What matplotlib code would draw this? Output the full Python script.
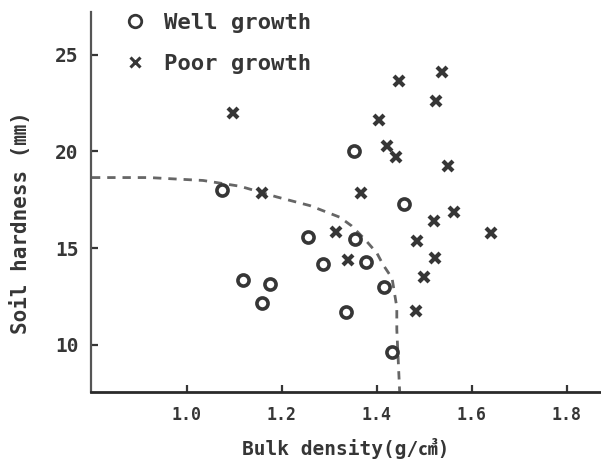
import matplotlib
matplotlib.use("Agg")
import matplotlib.pyplot as plt
from matplotlib.lines import Line2D

# Well growth stands: bulk density (g/cm3) vs. soil hardness (mm)
well_density = [1.074, 1.352, 1.457, 1.255, 1.354, 1.286, 1.377,
                1.118, 1.175, 1.159, 1.415, 1.334, 1.432]
well_hardness = [18.0, 20.0, 17.3, 15.6, 15.5, 14.2, 14.3,
                 13.35, 13.15, 12.15, 13.0, 11.7, 9.65]

# Poor growth stands
poor_density = [1.446, 1.538, 1.525, 1.405, 1.422, 1.441, 1.550,
                1.097, 1.367, 1.159, 1.562, 1.520, 1.485, 1.522,
                1.500, 1.482, 1.641, 1.314, 1.339]
poor_hardness = [23.65, 24.1, 22.6, 21.6, 20.3, 19.7, 19.25,
                 22.0, 17.85, 17.85, 16.85, 16.4, 15.35, 14.5,
                 13.5, 11.75, 15.8, 15.85, 14.4]

# Hand-drawn boundary between the two groups
bound_density = [0.80, 0.92, 1.034, 1.112, 1.189, 1.259, 1.322, 1.347,
                 1.375, 1.400, 1.413, 1.432, 1.442, 1.442, 1.448]
bound_hardness = [18.65, 18.65, 18.5, 18.2, 17.65, 17.2, 16.6, 16.15,
                  15.45, 14.75, 14.15, 13.45, 11.95, 10.8, 7.6]

x_ticks = [1.0, 1.2, 1.4, 1.6, 1.8]
x_ticklabels = ["1.0", "1.2", "1.4", "1.6", "1.8"]
y_ticks = [10, 15, 20, 25]

INK = "#363636"
MONO = "DejaVu Sans Mono"

fig = plt.figure(figsize=(6.01, 4.65), dpi=100)
ax = fig.add_axes([0.1514, 0.157, 0.8486, 0.817])

ax.plot(bound_density, bound_hardness, linestyle=(0, (3, 2.5)), color="#666666",
        linewidth=2.0, zorder=1)
ax.plot(well_density, well_hardness, linestyle="none", marker="o", markersize=8,
        markerfacecolor="white", markeredgecolor=INK, markeredgewidth=2.6, zorder=3)
ax.plot(poor_density, poor_hardness, linestyle="none", marker="x", markersize=7,
        color=INK, markeredgewidth=3.0, zorder=3)

ax.set_xlim(0.798, 1.872)
ax.set_ylim(7.57, 27.2)

for side in ("top", "right"):
    ax.spines[side].set_visible(False)
ax.spines["left"].set_color("#555555")
ax.spines["left"].set_linewidth(1.6)
ax.spines["bottom"].set_color("#2a2a2a")
ax.spines["bottom"].set_linewidth(2.0)

ax.set_xticks(x_ticks)
ax.set_xticklabels(x_ticklabels)
ax.set_yticks(y_ticks)
ax.tick_params(direction="in", length=5, width=1.6, color=INK, labelcolor=INK)
ax.tick_params(axis="x", labelsize=12, pad=10)
ax.tick_params(axis="y", labelsize=14, pad=9)
for lab in ax.get_xticklabels() + ax.get_yticklabels():
    lab.set_fontfamily(MONO)
    lab.set_fontweight("bold")

ax.set_xlabel("Bulk density(g/㎤)", fontsize=14, fontweight="bold", color=INK,
              family=[MONO, "Noto Sans CJK JP"], labelpad=10)
ax.set_ylabel("Soil hardness (㎜)", fontsize=15, fontweight="bold", color=INK,
              family=[MONO, "Noto Sans CJK JP"])
ax.yaxis.set_label_coords(-0.118, 0.447)

handles = [
    Line2D([], [], linestyle="none", marker="o", markersize=9, markerfacecolor="white",
           markeredgecolor=INK, markeredgewidth=2.0),
    Line2D([], [], linestyle="none", marker="x", markersize=7, color=INK,
           markeredgewidth=2.2),
]
leg = ax.legend(handles, ["Well growth", "Poor growth"], loc="upper left",
                bbox_to_anchor=(0.025, 1.05), frameon=False, handlelength=1.0,
                handletextpad=0.8, labelspacing=0.95,
                prop={"family": MONO, "weight": "bold", "size": 16})
for t in leg.get_texts():
    t.set_color(INK)

fig.savefig("out.png", dpi=100, facecolor="white")
